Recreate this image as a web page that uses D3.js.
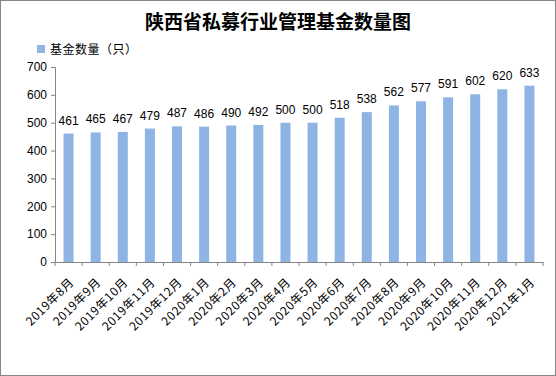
<!DOCTYPE html>
<html>
<head>
<meta charset="utf-8">
<script src="https://cdn.jsdelivr.net/npm/d3@7"></script>
<style>
  body { margin: 0; background: #fff; }
  svg { display: block; font-family: "Liberation Sans", "Noto Sans CJK SC", sans-serif; }
</style>
</head>
<body>
<div id="chart"></div>
<script>
const months = ["2019年8月", "2019年9月", "2019年10月", "2019年11月", "2019年12月",
    "2020年1月", "2020年2月", "2020年3月", "2020年4月", "2020年5月", "2020年6月",
    "2020年7月", "2020年8月", "2020年9月", "2020年10月", "2020年11月", "2020年12月", "2021年1月"];
const fundCounts = [461, 465, 467, 479, 487, 486, 490, 492, 500, 500, 518, 538, 562, 577, 591, 602, 620, 633];
const yTicks = [0, 100, 200, 300, 400, 500, 600, 700];
const title = "陕西省私募行业管理基金数量图";
const seriesName = "基金数量（只）";

const width = 556, height = 376;
const margin = { top: 67, right: 13, bottom: 114, left: 55 };

const svg = d3.select("#chart").append("svg")
    .attr("width", width)
    .attr("height", height);

svg.append("rect")
    .attr("x", 0.5).attr("y", 0.5)
    .attr("width", width - 1).attr("height", height - 1)
    .attr("fill", "#fff")
    .attr("stroke", "#868686");

svg.append("text")
    .attr("x", width / 2)
    .attr("y", 29)
    .attr("text-anchor", "middle")
    .attr("font-family", "Noto Sans CJK SC")
    .attr("font-size", 19)
    .attr("font-weight", "bold")
    .text(title);

// legend
svg.append("rect")
    .attr("x", 37).attr("y", 45)
    .attr("width", 8).attr("height", 8)
    .attr("fill", "#8eb4e3");
svg.append("text")
    .attr("x", 50).attr("y", 54)
    .attr("font-family", "Noto Sans CJK SC")
    .attr("font-size", 12)
    .attr("letter-spacing", 0.5)
    .text(seriesName);

const x = d3.scaleBand()
    .domain(months)
    .range([margin.left, width - margin.right]);

const y = d3.scaleLinear()
    .domain([0, 700])
    .range([height - margin.bottom, margin.top]);

// y axis
const yAxis = svg.append("g")
    .attr("transform", `translate(${margin.left},0)`)
    .call(d3.axisLeft(y).tickValues(yTicks).tickSize(4).tickPadding(4));
yAxis.selectAll("text").attr("font-size", 12).attr("fill", "#000");
yAxis.selectAll("line, path").attr("stroke", "#868686");

// x axis
const xAxis = svg.append("g")
    .attr("transform", `translate(0,${height - margin.bottom})`)
    .call(d3.axisBottom(x).tickSize(0).tickFormat(""));
xAxis.select("path").attr("stroke", "#868686");

// tick marks between categories
svg.append("g")
    .selectAll("line")
    .data(months.concat(["end"]))
    .join("line")
    .attr("x1", (d, i) => margin.left + i * x.step())
    .attr("x2", (d, i) => margin.left + i * x.step())
    .attr("y1", height - margin.bottom)
    .attr("y2", height - margin.bottom + 4)
    .attr("stroke", "#868686");

svg.append("g")
    .selectAll("text")
    .data(months)
    .join("text")
    .attr("transform", d => `translate(${x(d) + x.bandwidth() / 2 + 6},${height - margin.bottom + 21}) rotate(-45)`)
    .attr("text-anchor", "end")
    .attr("font-family", "Noto Sans CJK SC")
    .attr("font-size", 12)
    .attr("letter-spacing", 0.6)
    .text(d => d);

// bars
const barW = 10;
svg.append("g")
    .selectAll("rect")
    .data(fundCounts)
    .join("rect")
    .attr("x", (d, i) => x(months[i]) + x.bandwidth() / 2 - barW / 2)
    .attr("y", d => y(d))
    .attr("width", barW)
    .attr("height", d => y(0) - y(d))
    .attr("fill", "#8eb4e3");

svg.append("g")
    .selectAll("text")
    .data(fundCounts)
    .join("text")
    .attr("x", (d, i) => x(months[i]) + x.bandwidth() / 2)
    .attr("y", d => y(d) - 9)
    .attr("text-anchor", "middle")
    .attr("font-size", 12)
    .text(d => d);
</script>
</body>
</html>
